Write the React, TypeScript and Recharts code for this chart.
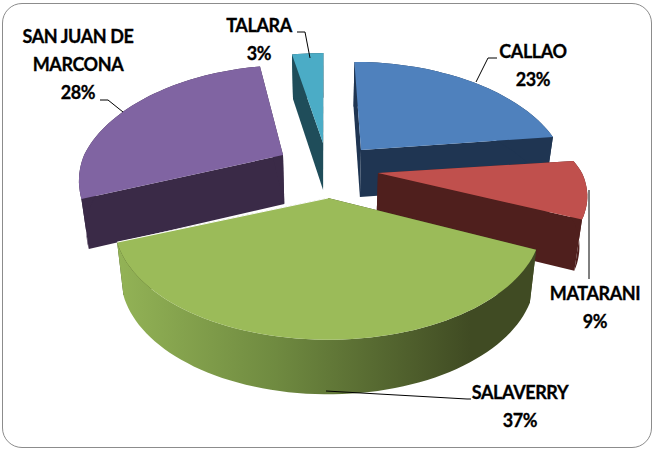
import { Pie, PieChart } from 'recharts';

const categories = ['CALLAO', 'MATARANI', 'SALAVERRY', 'SAN JUAN DE MARCONA', 'TALARA'];
const shares = [23, 9, 37, 28, 3];

const rows = categories.map((name, i) => ({ name, value: shares[i] }));

// back slices first, so that the front ones cover their sides
const drawOrder = ['TALARA', 'SAN JUAN DE MARCONA', 'CALLAO', 'MATARANI', 'SALAVERRY'];

const looks: Record<string, any> = {
	CALLAO: { top: '#4f81bd', side: '#1f3552', wall: '#1f3552', ox: 36, oy: -20, depth: 47, wide: 0.98, tall: 0.98 },
	MATARANI: { top: '#c0504d', side: '#4f1f1d', wall: '#4f1f1d', ox: 53, oy: 3, depth: 50, wide: 1, tall: 0.9 },
	SALAVERRY: { top: '#9bbb59', side: '#3f4a22', wall: 'url(#greenWall)', ox: 3, oy: 28, depth: 52, wide: 1.02, tall: 1, edge: '#ffffff' },
	'SAN JUAN DE MARCONA': { top: '#8064a2', side: '#3a2a47', wall: '#3a2a47', ox: -42, oy: -15, depth: 49, wide: 0.975, tall: 1 },
	TALARA: { top: '#4bacc6', side: '#1f4d5a', wall: '#1f4d5a', ox: -2, oy: -27, depth: 47, wide: 1, tall: 1 },
};

const labelSpots: Record<string, any> = {
	CALLAO: { x: 533, y: 58, lines: ['CALLAO'], leader: '476,82 488,58 497,58' },
	MATARANI: { x: 595, y: 300, lines: ['MATARANI'], leader: '589,190 589,279' },
	SALAVERRY: { x: 520, y: 399, lines: ['SALAVERRY'], leader: '326,391 467,399 471,399' },
	'SAN JUAN DE MARCONA': { x: 78, y: 43, lines: ['SAN JUAN DE', 'MARCONA'], leader: '100,100 108,100 123,112' },
	TALARA: { x: 259, y: 32, lines: ['TALARA'], leader: '297,32 305,32 310,58' },
};

const TILT = 110 / 204;
const PERSPECTIVE = 0.224;
const SIDE_NARROWING = 0.97;

// project an angle on the flat pie to the tilted picture
const project = (props: any, look: any, deg: number, r: number) => {
	const t = ((90 - deg) * Math.PI) / 180;
	const front = -Math.cos(t);
	const s = 1 / (1 - PERSPECTIVE * front);
	const lean = front < 0 ? s : 1;
	return {
		x: props.cx + look.ox * lean + r * look.wide * Math.sin(t) * s,
		y: props.cy + look.oy + r * TILT * look.tall * front * s,
		front,
	};
};

const pathOf = (pts: { x: number; y: number }[]) =>
	'M' + pts.map((p) => `${p.x.toFixed(1)},${p.y.toFixed(1)}`).join('L') + 'Z';

const drawSlice = (only: string) => (props: any) => {
	const name = props.name ?? props.payload?.name;
	if (name !== only) return <g />;
	const look = looks[name];
	const tip = { x: props.cx + look.ox, y: props.cy + look.oy };
	const down = (p: any) => ({
		x: props.cx + (p.x - props.cx) * SIDE_NARROWING,
		y: p.y + look.depth * (1 + 0.05 * (p.front ?? 0)),
	});

	const arc: any[] = [];
	const steps = Math.max(4, Math.ceil(Math.abs(props.endAngle - props.startAngle) / 2));
	for (let i = 0; i <= steps; i++) {
		const deg = props.startAngle + ((props.endAngle - props.startAngle) * i) / steps;
		arc.push(project(props, look, deg, props.outerRadius));
	}
	const first = arc[0];
	const last = arc[arc.length - 1];
	const wall = [...arc, ...arc.map(down).reverse()];

	return (
		<g>
			<path d={pathOf([tip, first, down(first), down(tip)])} fill={look.side} />
			<path d={pathOf([tip, last, down(last), down(tip)])} fill={look.side} />
			<path d={pathOf(wall)} fill={look.wall} />
			<path d={pathOf([tip, ...arc])} fill={look.top} />
			{look.edge && <line x1={tip.x} y1={tip.y} x2={last.x} y2={last.y} stroke={look.edge} strokeWidth={1} />}
		</g>
	);
};

const drawLabel = (props: any) => {
	const name = props.name ?? props.payload?.name;
	const spot = labelSpots[name];
	const percent = `${Math.round(props.percent * 100)}%`;
	return (
		<g>
			<polyline points={spot.leader} fill='none' stroke='#000000' strokeWidth={1} />
			<text
				x={spot.x}
				textAnchor='middle'
				fontFamily='Lato'
				fontWeight={700}
				fontSize={18}
				letterSpacing={-0.4}
				fill='#000000'
				stroke='#000000'
				strokeWidth={0.3}
			>
				{[...spot.lines, percent].map((line: string, i: number) => (
					<tspan key={line} x={spot.x} y={spot.y + i * 28}>
						{line}
					</tspan>
				))}
			</text>
		</g>
	);
};

export default function App() {
	return (
		<div style={{ position: 'absolute', left: 0, top: 0, width: 654, height: 452, background: '#ffffff' }}>
			<div
				style={{
					position: 'absolute',
					left: 2,
					top: 3,
					width: 648,
					height: 443,
					border: '1.5px solid #8c8c8c',
					borderRadius: 20,
				}}
			/>
			<div style={{ position: 'absolute', left: 0, top: 0 }}>
				<PieChart width={654} height={452} margin={{ top: 0, right: 0, bottom: 0, left: 0 }}>
					<defs>
						<linearGradient id='greenWall' gradientUnits='userSpaceOnUse' x1={118} y1={0} x2={470} y2={0}>
							<stop offset='0%' stopColor='#93b356' />
							<stop offset='45%' stopColor='#6f8a40' />
							<stop offset='100%' stopColor='#404b23' />
						</linearGradient>
					</defs>
					{drawOrder.map((name) => (
						<Pie
							key={name}
							data={rows}
							dataKey='value'
							nameKey='name'
							cx={325}
							cy={170}
							innerRadius={0}
							outerRadius={204}
							startAngle={90}
							endAngle={-270}
							stroke='none'
							shape={drawSlice(name)}
							isAnimationActive={false}
						/>
					))}
					<Pie
						data={rows}
						dataKey='value'
						nameKey='name'
						cx={325}
						cy={170}
						outerRadius={204}
						startAngle={90}
						endAngle={-270}
						fill='none'
						stroke='none'
						label={drawLabel}
						labelLine={false}
						isAnimationActive={false}
					/>
				</PieChart>
			</div>
		</div>
	);
}
